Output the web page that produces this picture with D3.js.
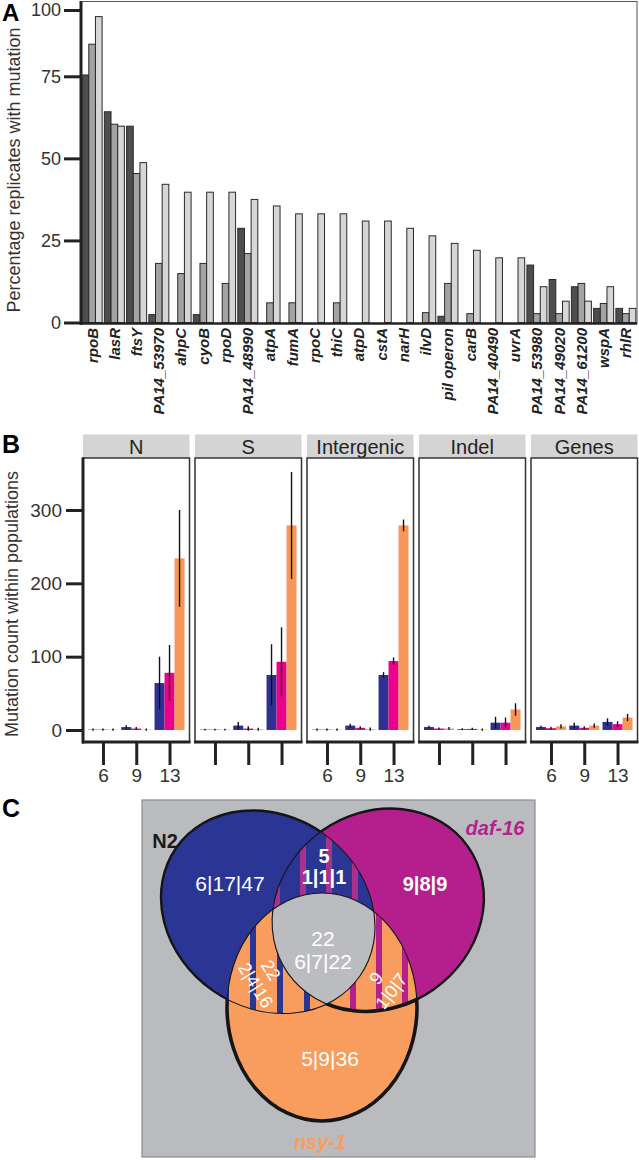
<!DOCTYPE html>
<html><head><meta charset="utf-8">
<script src="https://cdn.jsdelivr.net/npm/d3@7"></script>
<style>
body{margin:0;background:#fff;}
svg{display:block;}
text{font-family:"Liberation Sans",Arial,Helvetica,sans-serif;}
</style>
</head><body>
<svg id="c" width="639" height="1160"></svg>
<script>
// ---------- Panel A data ----------
const genes = ["rpoB","lasR","ftsY","PA14_53970","ahpC","cyoB","rpoD","PA14_48990","atpA","fumA","rpoC","thiC","atpD","cstA","narH","ilvD","pil operon","carB","PA14_40490","uvrA","PA14_53980","PA14_49020","PA14_61200","wspA","rhlR"];
const darkVals  = [75.5,64.2,59.8,2.4,0,2.4,0,28.7,0,0,0,0,0,0,0,0,1.9,0,0,0,17.5,13.1,10.9,4.3,4.3];
const midVals   = [87.1,60.4,45.4,18,14.9,18,11.9,21,6,6,0,6,0,0,0,3,11.9,2.7,0,0,2.7,2.7,11.9,5.8,2.7];
const lightVals = [97.5,59.8,48.7,42.1,39.7,39.7,39.7,37.5,35.5,33.1,33.1,33.1,30.9,30.9,28.7,26.4,24.1,22,19.7,19.7,10.9,6.5,6.5,10.9,4.3];
const yTicksA = [0,25,50,75,100];

// ---------- Panel B data ----------
const facets = ["N","S","Intergenic","Indel","Genes"];
const timepoints = ["6","9","13"];
const strains = ["N2","daf-16","nsy-1"];
const n2Mean  = [[0.5,4,64],[0.5,6,75],[0.5,6,75],[4,1,10],[4,6,11]];
const n2Err   = [[0.5,1.5,35],[0.3,4,41],[0.5,1.5,3],[1,0.5,7],[1,3,4]];
const dafMean = [[0.5,2,78],[0.5,2,93],[0.5,3,94],[2,1.5,10],[2.5,3,8]];
const dafErr  = [[0.5,1,37],[0.3,2,46],[0.5,1,4],[0.5,0.5,6],[1,1,3]];
const nsyMean = [[0.5,0.5,234],[0.5,1,279],[0.5,1,279],[2,0.5,28],[5,6,17]];
const nsyErr  = [[0.5,0.5,65],[0.3,1,72],[0.5,1.5,7],[1,0.5,7.5],[2,2,4]];
const yTicksB = [0,100,200,300];
const labelledFacets = ["N","Intergenic","Genes"];

// ---------- Panel C data ----------
const vennSets = ["N2","daf-16","nsy-1"];
const onlyN2 = "6|17|47", onlyDaf = "9|8|9", onlyNsy = "5|9|36";
const n2DafTotal = "5", n2DafSplit = "1|1|1";
const n2NsyTotal = "22", n2NsySplit = "2|4|16";
const dafNsyTotal = "9", dafNsySplit = "1|0|7";
const allTotal = "22", allSplit = "6|7|22";

const svg = d3.select("#c");

// ================= PANEL A =================
const gA = svg.append("g");
const xA = d3.scaleBand().domain(genes).range([81,637]).paddingInner(0.1).paddingOuter(0.05);
const xAin = d3.scaleBand().domain([0,1,2]).range([0,xA.bandwidth()]);
const yA = d3.scaleLinear().domain([0,75,100]).range([322.5,76.3,10]);
const fillsA = ["#4e4e4e","#a3a3a3","#d6d6d6"];
[darkVals,midVals,lightVals].forEach((vals,s)=>{
  gA.append("g").selectAll("rect").data(genes).join("rect")
    .attr("x",d=>xA(d)+xAin(s)).attr("width",xAin.bandwidth())
    .attr("y",(d,i)=>yA(vals[i])).attr("height",(d,i)=>yA(0)-yA(vals[i]))
    .attr("fill",fillsA[s]).attr("stroke","#2a2a2a").attr("stroke-width",1);
});
gA.append("rect").attr("x",81).attr("y",1.5).attr("width",556).attr("height",322)
  .attr("fill","none").attr("stroke","#555").attr("stroke-width",1);
gA.append("line").attr("x1",81).attr("x2",81).attr("y1",1).attr("y2",325).attr("stroke","#222").attr("stroke-width",3);
gA.append("line").attr("x1",80).attr("x2",637).attr("y1",323.5).attr("y2",323.5).attr("stroke","#222").attr("stroke-width",2.5);
const axYA = gA.append("g").attr("transform","translate(81,0)")
  .call(d3.axisLeft(yA).tickValues(yTicksA).tickSize(17).tickPadding(3).tickFormat(d3.format("d")));
axYA.select(".domain").remove();
axYA.selectAll(".tick line").attr("stroke","#222").attr("stroke-width",3);
axYA.selectAll(".tick text").attr("font-size",18).attr("fill","#333").attr("font-family",'"Liberation Sans",Arial,sans-serif');
const axXA = gA.append("g").attr("transform","translate(0,328)")
  .call(d3.axisBottom(xA).tickSize(0).tickPadding(0));
axXA.select(".domain").remove();
axXA.selectAll(".tick text").attr("transform","rotate(-90)").attr("x",0).attr("y",0).attr("dy","0.36em")
  .attr("text-anchor","end").attr("font-size",15).attr("font-weight","bold").attr("font-style","italic")
  .attr("fill","#222").attr("font-family",'"Liberation Sans",Arial,sans-serif');
gA.append("text").attr("transform","translate(20,170) rotate(-90)").attr("text-anchor","middle")
  .attr("font-size",18).attr("fill","#333").text("Percentage replicates with mutation");
svg.append("text").attr("x",2).attr("y",21).attr("font-size",24).attr("font-weight","bold").text("A");

// ================= PANEL B =================
const gB = svg.append("g");
const panelW = 106.5, panelTop = 458, panelBot = 742;
const facetX = d3.scalePoint().domain(facets).range([83,531]);
const yB = d3.scaleLinear().domain([0,300]).range([730,510]);
const xB = d3.scalePoint().domain(timepoints).range([0,panelW]).padding(0.6);
const dodge = d3.scaleBand().domain(strains).range([-15,15]);
const colB = {"N2":"#2e3192","daf-16":"#ec008c","nsy-1":"#f7965a"};
const meansB = [n2Mean,dafMean,nsyMean], errsB = [n2Err,dafErr,nsyErr];

facets.forEach((f,fi)=>{
  const px = facetX(f);
  const g = gB.append("g").attr("transform",`translate(${px},0)`);
  g.append("rect").attr("x",0).attr("y",434.5).attr("width",panelW).attr("height",23.5).attr("fill","#d4d4d4");
  g.append("text").attr("x",panelW/2).attr("y",453.5).attr("text-anchor","middle").attr("font-size",20).attr("fill","#222").text(f);
  strains.forEach((s,si)=>{
    const m = meansB[si][fi], e = errsB[si][fi];
    g.append("g").selectAll("rect").data(timepoints).join("rect")
      .attr("x",t=>xB(t)+dodge(s)).attr("width",dodge.bandwidth())
      .attr("y",(t,i)=>yB(m[i])).attr("height",(t,i)=>yB(0)-yB(m[i]))
      .attr("fill",colB[s]);
    g.append("g").selectAll("line").data(timepoints).join("line")
      .attr("x1",t=>xB(t)+dodge(s)+dodge.bandwidth()/2).attr("x2",t=>xB(t)+dodge(s)+dodge.bandwidth()/2)
      .attr("y1",(t,i)=>yB(m[i]+e[i])).attr("y2",(t,i)=>yB(Math.max(0,m[i]-e[i])))
      .attr("stroke","#111").attr("stroke-width",1.4).attr("stroke-linecap","square");
  });
  g.append("rect").attr("x",0).attr("y",panelTop).attr("width",panelW).attr("height",panelBot-panelTop)
    .attr("fill","none").attr("stroke","#333").attr("stroke-width",1.5);
  g.append("line").attr("x1",-1).attr("x2",panelW+1).attr("y1",panelBot).attr("y2",panelBot).attr("stroke","#222").attr("stroke-width",3);
  const ax = g.append("g").attr("transform",`translate(0,${panelBot})`)
    .call(d3.axisBottom(xB).tickSize(23).tickPadding(4).tickFormat(d=>labelledFacets.includes(f)?d:""));
  ax.select(".domain").remove();
  ax.selectAll(".tick line").attr("stroke","#222").attr("stroke-width",3);
  ax.selectAll(".tick text").attr("font-size",19).attr("fill","#333").attr("font-family",'"Liberation Sans",Arial,sans-serif');
});
gB.append("line").attr("x1",83).attr("x2",83).attr("y1",panelTop-0.5).attr("y2",panelBot+1.5).attr("stroke","#222").attr("stroke-width",3);
const axYB = gB.append("g").attr("transform","translate(83,0)")
  .call(d3.axisLeft(yB).tickValues(yTicksB).tickSize(17).tickPadding(4));
axYB.select(".domain").remove();
axYB.selectAll(".tick line").attr("stroke","#222").attr("stroke-width",3);
axYB.selectAll(".tick text").attr("font-size",19).attr("fill","#333").attr("font-family",'"Liberation Sans",Arial,sans-serif');
gB.append("text").attr("transform","translate(18,604) rotate(-90)").attr("text-anchor","middle")
  .attr("font-size",18).attr("fill","#333").text("Mutation count within populations");
svg.append("text").attr("x",2).attr("y",453).attr("font-size",25).attr("font-weight","bold").text("B");

// ================= PANEL C =================
svg.append("text").attr("x",2).attr("y",817).attr("font-size",25).attr("font-weight","bold").text("C");
const gC = svg.append("g");
const defs = svg.append("defs");
const box = {x:142,y:800,w:393,h:357};
const geo = {
  "N2":   {cx:268,cy:912,rx:112,ry:96,rot:35},
  "daf-16":{cx:378,cy:910,rx:110,ry:97,rot:-35},
  "nsy-1":{cx:322,cy:1007,rx:95,ry:114,rot:0}
};
const colC = {"N2":"#2b3594","daf-16":"#b51f8d","nsy-1":"#f89d5d"};
const ell = (sel,s)=> sel.append("ellipse").attr("cx",0).attr("cy",0).attr("rx",geo[s].rx).attr("ry",geo[s].ry)
  .attr("transform",`translate(${geo[s].cx},${geo[s].cy}) rotate(${geo[s].rot})`);
const cid = {"N2":"clipN2","daf-16":"clipDaf","nsy-1":"clipNsy"};
vennSets.forEach(s=>{ ell(defs.append("clipPath").attr("id",cid[s]),s); });
function pattern(id,bg,fg,x0,w){
  const p = defs.append("pattern").attr("id",id).attr("patternUnits","userSpaceOnUse")
    .attr("x",x0).attr("y",0).attr("width",w).attr("height",10);
  p.append("rect").attr("width",w).attr("height",10).attr("fill",bg);
  p.append("rect").attr("width",6).attr("height",10).attr("fill",fg);
}
pattern("pBM",colC["N2"],"#a8308f",300,26);
pattern("pOB",colC["nsy-1"],colC["N2"],250,27);
pattern("pOM",colC["nsy-1"],colC["daf-16"],350,26);
vennSets.forEach(s=>{
  const m = defs.append("mask").attr("id","m_"+cid[s]).attr("maskUnits","userSpaceOnUse")
    .attr("x",0).attr("y",0).attr("width",639).attr("height",1160);
  m.append("rect").attr("width",639).attr("height",1160).attr("fill","#fff");
  vennSets.filter(o=>o!==s).forEach(o=>ell(m,o).attr("fill","#000"));
});
const mDafIn = defs.append("mask").attr("id","mDafIn").attr("maskUnits","userSpaceOnUse")
  .attr("x",0).attr("y",0).attr("width",639).attr("height",1160);
ell(mDafIn,"nsy-1").attr("fill","#fff");
ell(mDafIn,"N2").attr("fill","#000");

gC.append("rect").attr("x",box.x).attr("y",box.y).attr("width",box.w).attr("height",box.h)
  .attr("fill","#babbbf").attr("stroke","#8c8c94").attr("stroke-width",1.2);
vennSets.forEach(s=>ell(gC,s).attr("fill",colC[s]));
function regionRect(clips,fill){
  let g = gC;
  clips.forEach(c=>{ g = g.append("g").attr("clip-path",`url(#${c})`); });
  g.append("rect").attr("x",box.x).attr("y",box.y).attr("width",box.w).attr("height",box.h).attr("fill",fill);
}
regionRect(["clipN2","clipDaf"],"url(#pBM)");
regionRect(["clipN2","clipNsy"],"url(#pOB)");
regionRect(["clipDaf","clipNsy"],"url(#pOM)");
regionRect(["clipN2","clipDaf","clipNsy"],"#bbbcc0");
// outlines
vennSets.forEach(s=>ell(gC,s).attr("fill","none").attr("stroke","#151515").attr("stroke-width",1.1));
const thick = {"N2":2.4,"daf-16":2.4,"nsy-1":3.6};
vennSets.forEach(s=>ell(gC.append("g").attr("mask",`url(#m_${cid[s]})`),s)
  .attr("fill","none").attr("stroke","#151515").attr("stroke-width",thick[s]));
ell(gC.append("g").attr("mask","url(#mDafIn)"),"daf-16").attr("fill","none").attr("stroke","#151515").attr("stroke-width",3.6);

function lab(x,y,t,opt={}){
  return gC.append("text").attr("transform",`translate(${x},${y}) rotate(${opt.rot||0})`)
    .attr("text-anchor","middle").attr("dy","0.36em").attr("font-size",opt.size||20).attr("fill",opt.fill||"#fff")
    .attr("font-weight",opt.bold?"bold":"normal").attr("font-style",opt.italic?"italic":"normal").text(t);
}
lab(230,883,onlyN2,{size:21});
lab(425,884,onlyDaf,{bold:true});
lab(330,1058,onlyNsy,{size:21});
lab(324,856,n2DafTotal,{bold:true});
lab(324,877,n2DafSplit,{bold:true});
lab(323,938,allTotal,{size:21});
lab(323,961,allSplit,{size:21});
lab(271,970,n2NsyTotal,{rot:58,size:18});
lab(256,985,n2NsySplit,{rot:58,size:18});
lab(376,978,dafNsyTotal,{rot:-52,size:18});
lab(391,991,dafNsySplit,{rot:-52,size:18});
lab(165,841,vennSets[0],{bold:true,fill:"#1a1a1a"});
lab(495,828,vennSets[1],{bold:true,italic:true,fill:"#b5228e"});
lab(320,1142,vennSets[2],{bold:true,italic:true,fill:"#f89d5d"});
</script>
</body></html>
